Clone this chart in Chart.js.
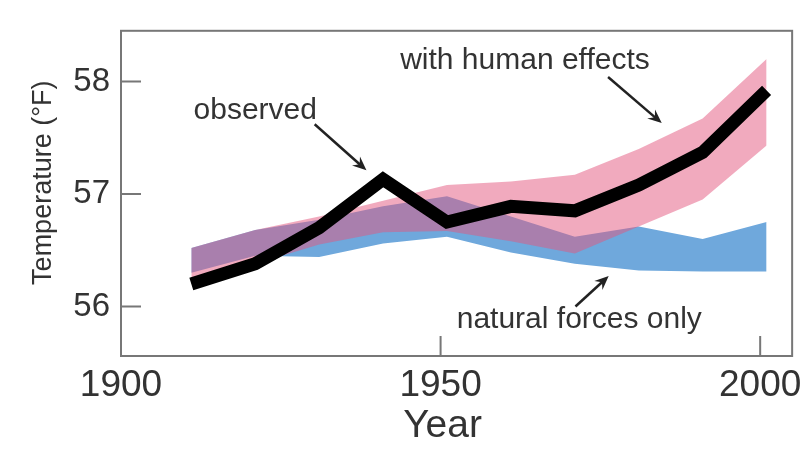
<!DOCTYPE html>
<html>
<head>
<meta charset="utf-8">
<script src="https://cdn.jsdelivr.net/npm/chart.js@4/dist/chart.umd.min.js"></script>
<style>
  html, body { margin: 0; padding: 0; background: #fff; }
</style>
</head>
<body>
<canvas id="chart" width="810" height="450"></canvas>
<script>
// decade points (they sit a year past the round decade in the figure)
const years = [1911, 1921, 1931, 1941, 1951, 1961, 1971, 1981, 1991, 2001]
const observed = [56.20, 56.38, 56.70, 57.13, 56.75, 56.89, 56.85, 57.08, 57.37, 57.92]
// model range with human effects (pink band)
const humanHigh = [56.52, 56.68, 56.80, 56.94, 57.08, 57.11, 57.17, 57.40, 57.67, 58.20]
const humanLow = [56.25, 56.38, 56.55, 56.66, 56.67, 56.58, 56.47, 56.71, 56.95, 57.43]
// model range with natural forces only (blue band)
const naturalHigh = [56.52, 56.68, 56.77, 56.89, 56.98, 56.80, 56.62, 56.71, 56.60, 56.75]
const naturalLow = [56.30, 56.45, 56.44, 56.56, 56.62, 56.48, 56.38, 56.32, 56.31, 56.31]

const xTicks = [1900, 1950, 2000]
const yTicks = [56, 57, 58]

// callouts in data units: label centre, arrow start, arrow tip
const notes = [
  { text: "observed", at: [1921, 57.74], from: [1930.3, 57.62], to: [1938.4, 57.21] },
  { text: "with human effects", at: [1963.2, 58.18], from: [1976.2, 58.04], to: [1984.6, 57.63] },
  { text: "natural forces only", at: [1971.7, 55.88], from: [1971.1, 56.0], to: [1976.3, 56.27] }
]

const FONT = '"Liberation Sans", Arial, sans-serif'
const INK = "#333"

const pts = (vals) => years.map((t, i) => ({ x: t, y: vals[i] }))

function arrow(ctx, x0, y0, x1, y1) {
  const a = Math.atan2(y1 - y0, x1 - x0)
  const c = Math.cos(a), s = Math.sin(a)
  const L = 14, W = 6
  ctx.beginPath()
  ctx.moveTo(x0, y0)
  ctx.lineTo(x1 - L * 0.6 * c, y1 - L * 0.6 * s)
  ctx.stroke()
  ctx.beginPath()
  ctx.moveTo(x1, y1)
  ctx.lineTo(x1 - L * c + W * s, y1 - L * s - W * c)
  ctx.lineTo(x1 - L * 0.65 * c, y1 - L * 0.65 * s)
  ctx.lineTo(x1 - L * c - W * s, y1 - L * s + W * c)
  ctx.closePath()
  ctx.fill()
}

// frame, inward ticks, axis titles and the callouts
const decor = {
  id: "decor",
  afterDraw(chart) {
    const { ctx, chartArea: a, scales: { x, y } } = chart
    ctx.save()
    ctx.strokeStyle = "#777"
    ctx.lineWidth = 2
    ctx.strokeRect(a.left, a.top, a.right - a.left, a.bottom - a.top)
    ctx.beginPath()
    xTicks.slice(1).forEach(v => {
      const px = x.getPixelForValue(v)
      ctx.moveTo(px, a.bottom)
      ctx.lineTo(px, a.bottom - 20)
    })
    yTicks.forEach(v => {
      const py = y.getPixelForValue(v)
      ctx.moveTo(a.left, py)
      ctx.lineTo(a.left + 20, py)
    })
    ctx.stroke()

    ctx.fillStyle = INK
    ctx.textAlign = "center"
    ctx.textBaseline = "middle"
    ctx.font = `39px ${FONT}`
    ctx.fillText("Year", x.getPixelForValue(1950) + 2, 426)
    ctx.save()
    ctx.translate(44, y.getPixelForValue(57.1))
    ctx.rotate(-Math.PI / 2)
    ctx.font = `27px ${FONT}`
    ctx.fillText("Temperature (°F)", 0, 0)
    ctx.restore()

    ctx.font = `30px ${FONT}`
    ctx.strokeStyle = "#222"
    ctx.lineWidth = 2.5
    notes.forEach(n => {
      ctx.fillStyle = INK
      ctx.fillText(n.text, x.getPixelForValue(n.at[0]), y.getPixelForValue(n.at[1]))
      ctx.fillStyle = "#222"
      arrow(ctx,
        x.getPixelForValue(n.from[0]), y.getPixelForValue(n.from[1]),
        x.getPixelForValue(n.to[0]), y.getPixelForValue(n.to[1]))
    })
    ctx.restore()
  }
}

const band = { borderWidth: 0, pointRadius: 0, tension: 0 }

new Chart(document.getElementById("chart"), {
  type: "line",
  data: {
    datasets: [
      {
        data: pts(observed),
        borderColor: "#000",
        borderWidth: 13,
        borderJoinStyle: "miter",
        borderCapStyle: "butt",
        pointRadius: 0,
        fill: false
      },
      { ...band, data: pts(humanHigh), fill: "+1", backgroundColor: "rgba(228, 86, 126, 0.5)" },
      { ...band, data: pts(humanLow), fill: false },
      { ...band, data: pts(naturalHigh), fill: "+1", backgroundColor: "#6fa8dc" },
      { ...band, data: pts(naturalLow), fill: false }
    ]
  },
  options: {
    responsive: false,
    animation: false,
    layout: { padding: { top: 12, right: 14, left: 0, bottom: 0 } },
    plugins: { legend: { display: false }, tooltip: { enabled: false } },
    scales: {
      x: {
        type: "linear",
        min: 1900,
        max: 2005,
        afterFit: s => { s.height = 94 },
        afterBuildTicks: s => { s.ticks = xTicks.map(v => ({ value: v })) },
        grid: { display: false, drawTicks: false },
        border: { display: false },
        ticks: {
          padding: 8,
          color: INK,
          font: { family: FONT, size: 37 },
          callback: v => String(v)
        }
      },
      y: {
        min: 55.56,
        max: 58.45,
        afterFit: s => { s.width = 121 },
        afterBuildTicks: s => { s.ticks = yTicks.map(v => ({ value: v })) },
        grid: { display: false, drawTicks: false },
        border: { display: false },
        ticks: {
          padding: 11,
          color: INK,
          font: { family: FONT, size: 33 },
          callback: v => String(v)
        }
      }
    }
  },
  plugins: [decor]
})
</script>
</body>
</html>
